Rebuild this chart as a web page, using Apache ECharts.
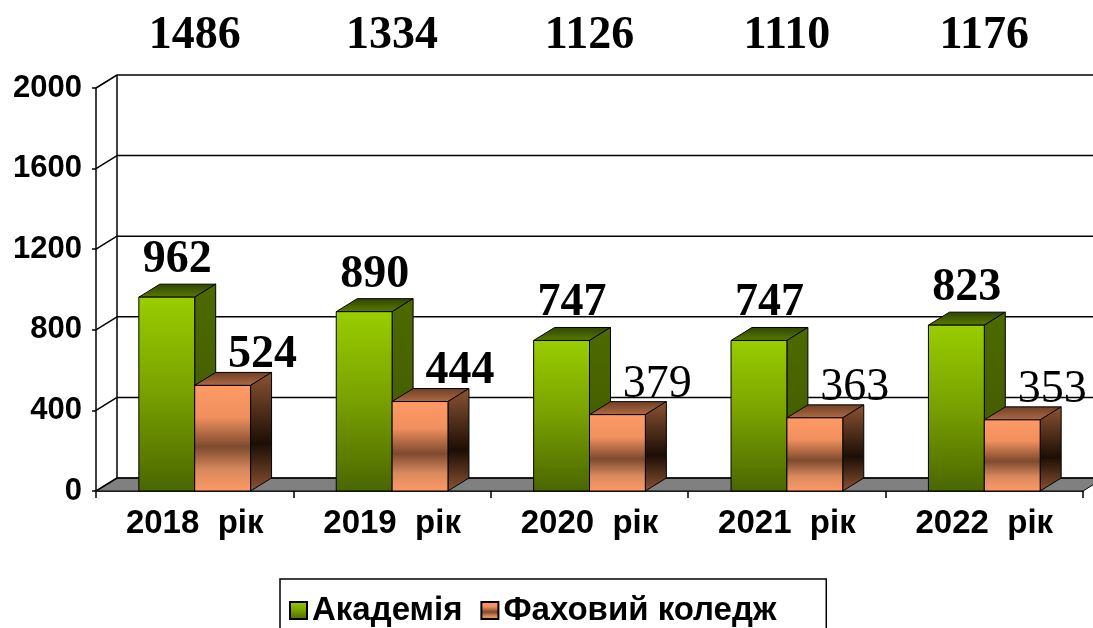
<!DOCTYPE html>
<html>
<head>
<meta charset="utf-8">
<script src="https://cdn.jsdelivr.net/npm/echarts@6/dist/echarts.min.js"></script>
<style>
  html, body { margin: 0; padding: 0; background: #fff; }
  #chart { width: 1093px; height: 628px; }
</style>
</head>
<body>
<div id="chart"></div>
<script>
// дані
const categories = ['2018  рік', '2019  рік', '2020  рік', '2021  рік', '2022  рік']
const academy = [962, 890, 747, 747, 823]
const college = [524, 444, 379, 363, 353]
const totals = [1486, 1334, 1126, 1110, 1176]
const yTicks = [0, 400, 800, 1200, 1600, 2000]
const seriesNames = ['Академія', 'Фаховий коледж']

// глибина 3D ефекту
const DX = 21
const DY = -13
const collegeWeight = ['bold', 'bold', 'normal', 'normal', 'normal']

const lg = (stops) => new echarts.graphic.LinearGradient(0, 0, 0, 1, stops.map(c => ({ offset: c[0], color: c[1] })))

const greenFaces = {
  front: () => lg([[0, '#9acd00'], [0.5, '#78a000'], [1, '#4a6600']]),
  side: () => lg([[0, '#4d6a00'], [1, '#3f5700']]),
  top: () => lg([[0, '#2e4400'], [1, '#5a7c00']])
}
const orangeFaces = {
  front: () => lg([[0, '#ff9a66'], [0.3, '#f0905e'], [0.58, '#7e4a2e'], [0.8, '#d98a5e'], [1, '#ff9966']]),
  side: () => lg([[0, '#8c5434'], [0.6, '#1c0e04'], [1, '#8c5434']]),
  top: () => lg([[0, '#6e3f24'], [1, '#b06a44']])
}

function barItem(left, faces, labelFont, labelDx, labelDy) {
  return function (params, api) {
    const i = api.value(0)
    const v = api.value(1)
    const band = api.size([1, 0])[0]
    const w = band * 0.283
    const base = api.coord([i, 0])
    const top = api.coord([i, v])
    const x0 = left ? base[0] - w : base[0]
    const x1 = x0 + w
    const yb = base[1]
    const yt = top[1]
    const font = typeof labelFont === 'function' ? labelFont(i) : labelFont
    return {
      type: 'group',
      children: [
        {
          type: 'polygon',
          shape: { points: [[x0, yt], [x1, yt], [x1 + DX, yt + DY], [x0 + DX, yt + DY]] },
          style: { fill: faces.top(), stroke: '#000', lineWidth: 1 }
        },
        {
          type: 'polygon',
          shape: { points: [[x1, yt], [x1 + DX, yt + DY], [x1 + DX, yb + DY], [x1, yb]] },
          style: { fill: faces.side(), stroke: '#000', lineWidth: 1 }
        },
        {
          type: 'rect',
          shape: { x: x0, y: yt, width: w, height: yb - yt },
          style: { fill: faces.front(), stroke: '#000', lineWidth: 1 }
        },
        {
          type: 'text',
          style: {
            text: String(v),
            x: x0 + labelDx(w),
            y: yt + DY + labelDy,
            fill: '#000',
            font: font,
            align: 'center',
            verticalAlign: 'middle'
          }
        }
      ]
    }
  }
}

var myChart = echarts.init(document.getElementById('chart'))

let option = {
  animation: false,
  backgroundColor: '#fff',
  grid: { left: 96, right: 10, top: 88, bottom: 137 },
  legend: {
    data: seriesNames,
    left: 280,
    top: 579,
    orient: 'horizontal',
    borderColor: '#000',
    borderWidth: 1.5,
    padding: [15, 50, 40, 9],
    itemWidth: 17,
    itemHeight: 17,
    itemGap: 18,
    icon: 'rect',
    textStyle: { color: '#000', fontFamily: 'Liberation Sans', fontWeight: 'bold', fontSize: 33 }
  },
  xAxis: {
    type: 'category',
    data: categories,
    axisLine: { show: true, lineStyle: { color: '#000', width: 1.5 } },
    axisTick: { show: true, interval: 0, length: 7, lineStyle: { color: '#000', width: 1.5 } },
    axisLabel: {
      interval: 0,
      margin: 16,
      color: '#000',
      fontFamily: 'Liberation Sans',
      fontWeight: 'bold',
      fontSize: 33
    },
    splitLine: { show: false }
  },
  yAxis: {
    type: 'value',
    min: 0,
    max: 2000,
    interval: 400,
    axisLine: { show: true, lineStyle: { color: '#000', width: 1.5 } },
    axisTick: { show: true, length: 4, lineStyle: { color: '#000', width: 1.5 } },
    axisLabel: {
      margin: 14,
      color: '#000',
      fontFamily: 'Liberation Sans',
      fontWeight: 'bold',
      fontSize: 31,
      formatter: v => String(v)
    },
    splitLine: { show: false }
  },
  series: [
    {
      // підлога
      type: 'custom',
      silent: true,
      z: 1,
      data: [[0, 0]],
      renderItem: function (params, api) {
        const cs = params.coordSys
        const yb = cs.y + cs.height
        return {
          type: 'group',
          children: [
            {
              type: 'polygon',
              shape: { points: [[cs.x, yb], [cs.x + DX, yb + DY], [cs.x + cs.width + DX, yb + DY], [cs.x + cs.width, yb]] },
              style: { fill: '#808080', stroke: '#000', lineWidth: 1 }
            },
            {
              type: 'line',
              shape: { x1: cs.x + DX, y1: yb + DY, x2: cs.x + DX, y2: cs.y + DY },
              style: { stroke: '#000', lineWidth: 1.5 }
            }
          ]
        }
      }
    },
    {
      // сітка на задній стінці
      type: 'custom',
      silent: true,
      z: 1,
      data: yTicks.map(v => [0, v]),
      renderItem: function (params, api) {
        const cs = params.coordSys
        const y = api.coord([0, api.value(1)])[1]
        return {
          type: 'group',
          children: [
            {
              type: 'line',
              shape: { x1: cs.x, y1: y, x2: cs.x + DX, y2: y + DY },
              style: { stroke: '#000', lineWidth: 1.5 }
            },
            {
              type: 'line',
              shape: { x1: cs.x + DX, y1: y + DY, x2: cs.x + cs.width + DX, y2: y + DY },
              style: { stroke: '#000', lineWidth: 1.5 }
            }
          ]
        }
      }
    },
    {
      name: seriesNames[0],
      type: 'custom',
      z: 3,
      itemStyle: { color: greenFaces.front(), borderColor: '#000', borderWidth: 1 },
      data: academy.map((v, i) => [i, v]),
      renderItem: barItem(true, greenFaces, 'bold 46px "Liberation Serif"', w => (w + DX) / 2, -24)
    },
    {
      name: seriesNames[1],
      type: 'custom',
      z: 4,
      itemStyle: { color: orangeFaces.front(), borderColor: '#000', borderWidth: 1 },
      data: college.map((v, i) => [i, v]),
      renderItem: barItem(false, orangeFaces, i => collegeWeight[i] + ' 46px "Liberation Serif"', w => w + 12, -17)
    },
    {
      // загальна кількість
      type: 'custom',
      silent: true,
      z: 5,
      data: totals.map((v, i) => [i, v]),
      renderItem: function (params, api) {
        const cs = params.coordSys
        const x = api.coord([api.value(0), 0])[0]
        return {
          type: 'text',
          style: {
            text: String(api.value(1)),
            x: x,
            y: cs.y - 52,
            fill: '#000',
            font: 'bold 46px "Liberation Serif"',
            align: 'center',
            verticalAlign: 'middle'
          }
        }
      }
    }
  ]
}

myChart.setOption(option)
window.onresize = function () {
  myChart.resize()
}
</script>
</body>
</html>
